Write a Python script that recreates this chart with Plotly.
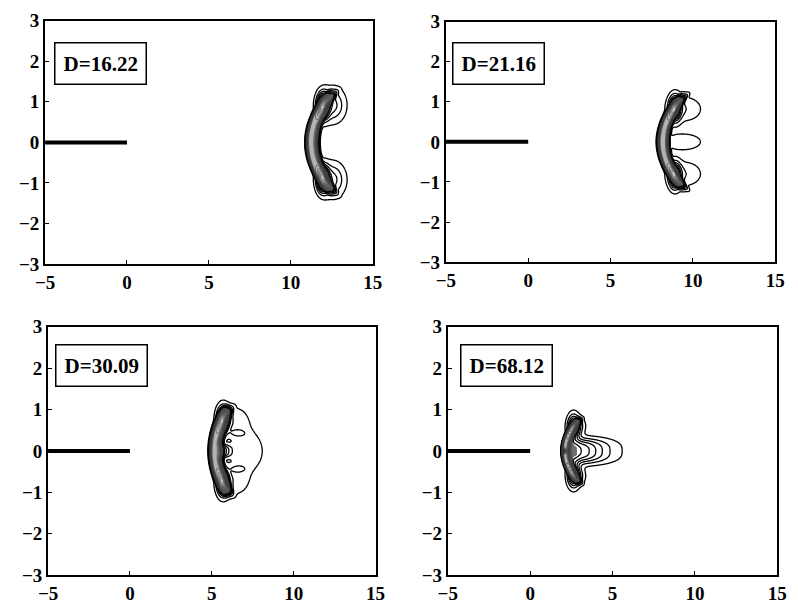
import numpy as np
import plotly.graph_objects as go

# ---- panel data -------------------------------------------------------
D_labels = ["D=16.22", "D=21.16", "D=30.09", "D=68.12"]

# curved vorticity band: centre x at y=0, curvature, half span, left/right widths
band_x0 = [11.2, 8.15, 5.15, 2.1]
band_curv = [0.8, 0.9, 0.7, 1.3]
band_half = [1.12, 1.05, 0.96, 0.7]
band_wl = [0.26, 0.28, 0.29, 0.18]
band_wr = [0.44, 0.35, 0.4, 0.3]
band_pr = [4, 4, 3, 3]
# extra strength at the two band ends
end_amp = [0.5, 0.4, 0.4, 0.3]

# secondary blobs behind the band: (x, y, sx, sy, amplitude)
blobs = [
    [(12.55, 0.92, 0.7, 0.38, 0.15), (12.55, -0.92, 0.7, 0.38, 0.15)],
    [(9.5, 0.82, 1.0, 0.3, 0.075), (9.4, 0.0, 1.1, 0.2, 0.075), (9.5, -0.8, 1.0, 0.3, 0.075)],
    [(6.4, 0.72, 0.85, 0.35, 0.065), (7.2, 0.0, 1.0, 0.5, 0.065), (6.4, -0.72, 0.85, 0.35, 0.065),
     (6.6, 0.43, 0.45, 0.075, 0.07), (6.6, -0.43, 0.45, 0.075, 0.07)],
    [(2.9, 0.6, 0.42, 0.2, 0.1), (2.9, -0.6, 0.42, 0.2, 0.1), (2.05, 0.0, 0.08, 0.05, 0.6)],
]

# trailing stem along the axis: (start x, decay length, half width, amplitude)
stems = [None, None, (5.5, 0.6, 0.15, 0.25), (2.55, 2.0, 0.29, 0.3)]

# plate at y = 0
plate_x = [-5, 0]
plate_y = [0, 0]

x_ticks = [-5, 0, 5, 10, 15]
y_ticks = [-3, -2, -1, 0, 1, 2, 3]

# label box centres in data units
label_x = [-1.64, -1.8, -1.73, -1.45]
label_y = [1.94, 1.95, 2.06, 2.06]

# plot-area domains (paper fractions)
x_domains = [[0.0451, 0.4662], [0.5602, 0.9837], [0.0489, 0.4699], [0.5627, 0.9862]]
y_domains = [[0.573, 0.982], [0.5763, 0.9805], [0.0503, 0.4675], [0.0503, 0.4675]]


def vorticity(i, X, Y):
    xc = band_x0[i] + band_curv[i] * Y ** 2
    d = X - xc
    prof = np.where(d < 0, np.exp(-np.abs(d / band_wl[i]) ** 4),
                    np.exp(-np.abs(d / band_wr[i]) ** band_pr[i]))
    env = np.exp(-(np.abs(Y) / band_half[i]) ** 8)
    f = prof * env
    # strengthened ends of the band
    ye = 0.8 * band_half[i]
    xe = band_x0[i] + band_curv[i] * ye ** 2 + 0.12
    for s in (1, -1):
        f = f + end_amp[i] * np.exp(-((X - xe) / 0.33) ** 2 - ((Y - s * ye) / 0.28) ** 2)
    for (bx, by, sx, sy, a) in blobs[i]:
        f = f + a * np.exp(-((X - bx) / sx) ** 2 - ((Y - by) / sy) ** 2)
    if stems[i] is not None:
        xb, lam, sy, a = stems[i]
        gate = 1.0 / (1.0 + np.exp(-(X - xb + 0.1) / 0.05))
        dx = np.maximum(X - xb, 0)
        f = f + a * np.exp(-(dx / lam) ** 2) * np.exp(-np.abs(Y / sy) ** 3) * gate
    return f


fig = go.Figure()
layout = dict(width=798, height=616, margin=dict(l=0, r=0, t=0, b=0),
              paper_bgcolor="white", plot_bgcolor="white", showlegend=False)
tick_font = dict(family="Liberation Serif", size=19, color="black", weight="bold")
annotations = []

for i in range(4):
    sfx = "" if i == 0 else str(i + 1)
    xa, ya = "x" + sfx, "y" + sfx
    xs = np.linspace(band_x0[i] - 1.5, band_x0[i] + 5.0, 420)
    ys = np.linspace(-1.8, 1.8, 300)
    X, Y = np.meshgrid(xs, ys)
    Z = vorticity(i, X, Y)

    # grey shading of the strong core
    shade = np.where(Z >= 0.3, Z, np.nan)
    fig.add_trace(go.Heatmap(
        x=xs, y=ys, z=shade, xaxis=xa, yaxis=ya, showscale=False, hoverinfo="skip",
        zmin=0.3, zmax=1.3, zsmooth="best",
        colorscale=[[0, "#6e6e6e"], [0.6, "#a8a8a8"], [1, "#d4d4d4"]]))
    # weak outer levels
    fig.add_trace(go.Contour(
        x=xs, y=ys, z=Z, xaxis=xa, yaxis=ya, showscale=False, hoverinfo="skip",
        contours=dict(coloring="lines", start=0.03, end=0.29, size=0.05),
        colorscale=[[0, "black"], [1, "black"]], line=dict(width=1.3)))
    # dense core levels
    fig.add_trace(go.Contour(
        x=xs, y=ys, z=Z, xaxis=xa, yaxis=ya, showscale=False, hoverinfo="skip",
        contours=dict(coloring="lines", start=0.33, end=1.8, size=0.07),
        colorscale=[[0, "#3a3a3a"], [1, "#3a3a3a"]], line=dict(width=0.7)))
    # plate
    fig.add_trace(go.Scatter(x=plate_x, y=plate_y, xaxis=xa, yaxis=ya, mode="lines",
                             line=dict(color="black", width=4), hoverinfo="skip"))

    axis_common = dict(showline=True, mirror=True, linecolor="black", linewidth=2,
                       ticks="inside", ticklen=4, tickwidth=1, tickcolor="black",
                       showgrid=False, zeroline=False, tickfont=tick_font, fixedrange=True)
    layout["xaxis" + sfx] = dict(axis_common, domain=x_domains[i], range=[-5, 15],
                                 tickvals=x_ticks, anchor=ya)
    layout["yaxis" + sfx] = dict(axis_common, domain=y_domains[i], range=[-3, 3],
                                 tickvals=y_ticks, anchor=xa)
    annotations.append(dict(x=label_x[i], y=label_y[i], xref=xa, yref=ya,
                            text="<b>" + D_labels[i] + "</b>", showarrow=False,
                            font=dict(family="Liberation Serif", size=21, color="black"),
                            bordercolor="black", borderwidth=1.5, borderpad=8,
                            bgcolor="white", xanchor="center", yanchor="middle"))

layout["annotations"] = annotations
fig.update_layout(**layout)
fig.write_html("out.html")
